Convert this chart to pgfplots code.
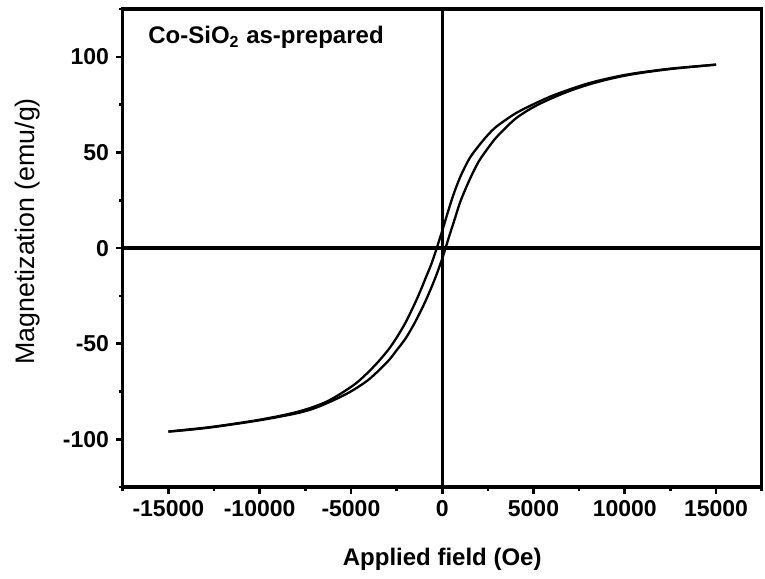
\documentclass[border=0pt]{standalone}
\usepackage{fontspec}
\setmainfont{Liberation Sans}
\usepackage{pgfplots}
\pgfplotsset{compat=1.18}
\begin{document}
\begin{tikzpicture}
\useasboundingbox (0,0) rectangle (382.5pt,289pt);
\begin{axis}[
  at={(61.35pt,45.5pt)}, anchor=south west,
  scale only axis, width=319.5pt, height=238.9pt,
  xmin=-17500, xmax=17500, ymin=-125, ymax=125,
  xtick={-15000,-10000,...,15000}, ytick={-100,-50,...,100},
  minor xtick={-17500,-12500,...,17500}, minor ytick={-125,-75,...,125},
  xtick pos=bottom, ytick pos=left, tick align=outside,
  major tick length=3.3pt, minor tick length=1.9pt,
  tick style={black, line width=1.3pt},
  axis line style={line width=1.7pt},
  scaled x ticks=false,
  /pgf/number format/assume math mode=true,
  /pgf/number format/set thousands separator={},
  ticklabel style={font=\fontsize{11.5}{13}\selectfont\bfseries},
  xlabel={Applied field (Oe)},
  ylabel={Magnetization (emu/g)},
  xlabel style={at={(axis description cs:0.5,-0.1653)}, anchor=base,
    font=\fontsize{12}{14}\selectfont\bfseries},
  ylabel style={at={(axis description cs:-0.1388,0.535)}, anchor=base,
    font=\fontsize{13.4}{15}\selectfont},
]
% zero lines
\draw[line width=1.6pt] (axis cs:0,-125) -- (axis cs:0,125);
\draw[line width=1.6pt] (axis cs:-17500,0) -- (axis cs:17500,0);

% descending branch
\addplot[black, line width=1.15pt, smooth, no markers] coordinates {
(15000,96.0) (14000,95.2) (12500,93.9) (11000,92.1) (10000,90.6)
(9000,88.6) (8000,86.2) (7000,83.1) (6000,79.6) (5000,75.3)
(4000,70.4) (3000,63.8) (2500,59.2) (2000,53.5) (1500,47.0)
(1000,37.5) (600,27.5) (300,18.5) (0,9.0) (-200,3.0)
(-350,-1.5) (-600,-8.5) (-900,-15.5) (-1200,-22.5) (-1500,-29.0)
(-2000,-38.8) (-2500,-46.9) (-3000,-53.8) (-3800,-62.5) (-4800,-71.3)
(-6300,-80.2) (-7900,-85.6) (-10000,-89.8) (-12500,-93.4) (-14000,-95.0)
(-15000,-96.0)
};
% ascending branch
\addplot[black, line width=1.15pt, smooth, no markers] coordinates {
(-15000,-96.0) (-14000,-95.2) (-12500,-93.6) (-10000,-90.1) (-8000,-86.5)
(-7000,-83.8) (-6000,-79.8) (-5000,-75.0) (-4000,-68.6) (-3000,-59.5)
(-2500,-53.5) (-2000,-47.2) (-1500,-39.0) (-1000,-29.5) (-600,-20.8)
(-300,-13.6) (0,-5.5) (200,0.5) (400,6.7) (700,15.6)
(1000,24.5) (1500,35.8) (2000,45.3) (2500,52.2) (3000,58.3)
(4000,67.6) (5000,73.8) (6000,78.4) (7000,82.3) (8000,85.5)
(9000,88.1) (10000,90.2) (11000,91.8) (12500,93.7) (14000,95.1)
(15000,96.0)
};

\node[anchor=base west, inner sep=0, font=\fontsize{12}{14}\selectfont\bfseries]
  at (axis description cs:0.0396,0.9274) {Co-SiO\textsubscript{2} as-prepared};
\end{axis}
\end{tikzpicture}
\end{document}
